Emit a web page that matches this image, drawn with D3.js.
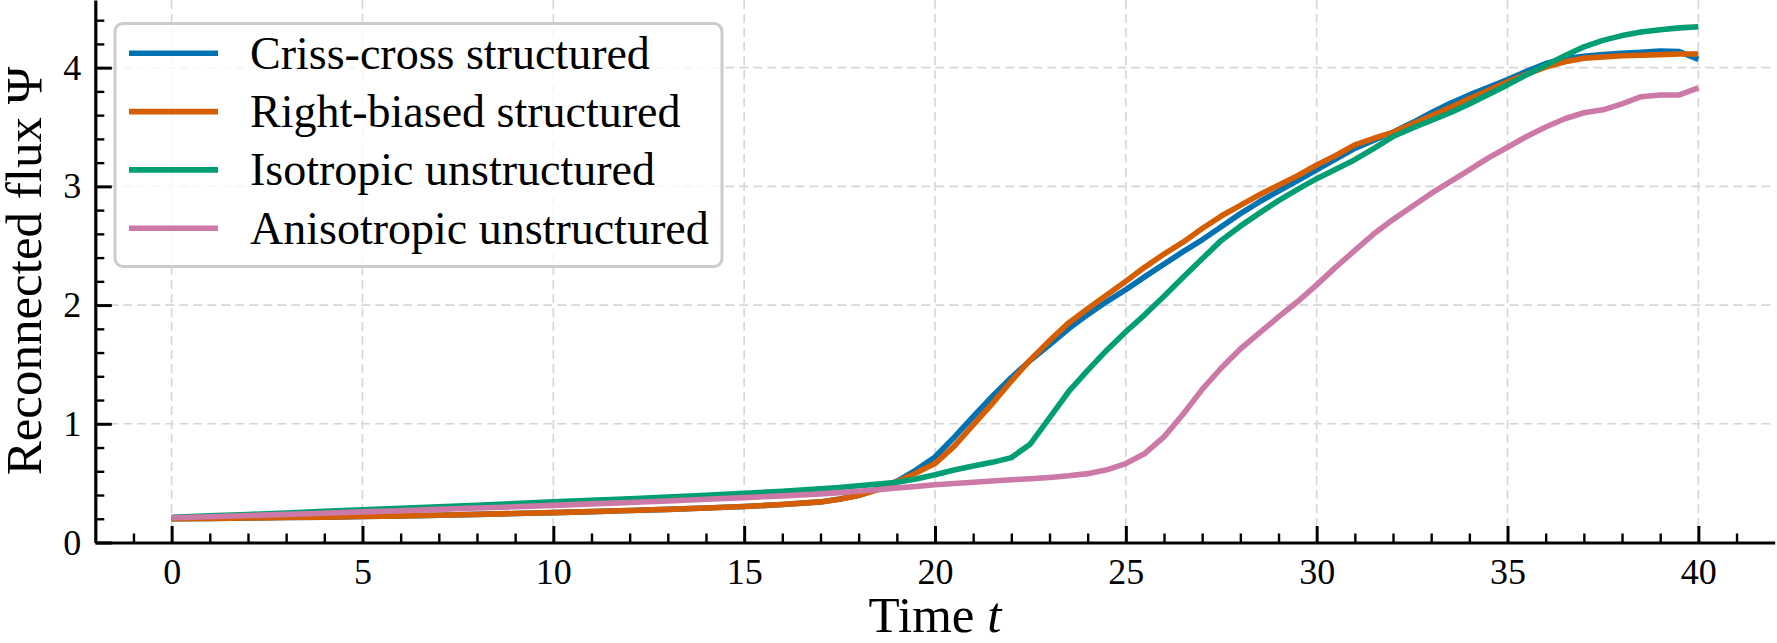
<!DOCTYPE html>
<html>
<head>
<meta charset="utf-8">
<script src="https://cdn.jsdelivr.net/npm/d3@7"></script>
<style>
  body { margin: 0; background: #fff; }
</style>
</head>
<body>
<div id="chart"></div>
<script>
"use strict";

// time samples (coarse before t=17, every 0.5 after)
const times = [0, 1, 2, 3, 4, 5, 6, 7, 8, 9, 10, 11, 12, 13, 14, 15, 16, 17,
  17.5, 18, 18.5, 19, 19.5, 20, 20.5, 21, 21.5, 22, 22.5, 23, 23.5, 24, 24.5, 25,
  25.5, 26, 26.5, 27, 27.5, 28, 28.5, 29, 29.5, 30, 30.5, 31, 31.5, 32, 32.5, 33,
  33.5, 34, 34.5, 35, 35.5, 36, 36.5, 37, 37.5, 38, 38.5, 39, 39.5, 40];

const crissCross = [0.200, 0.203, 0.206, 0.210, 0.214, 0.219, 0.224, 0.230, 0.237, 0.244, 0.252, 0.260, 0.269, 0.279, 0.290, 0.303, 0.320, 0.342,
  0.366, 0.398, 0.45, 0.515, 0.61, 0.72, 0.885, 1.06, 1.23, 1.39, 1.535, 1.665, 1.80, 1.92, 2.03, 2.13,
  2.24, 2.345, 2.45, 2.55, 2.66, 2.77, 2.87, 2.96, 3.05, 3.14, 3.23, 3.32, 3.39, 3.455, 3.535, 3.62,
  3.70, 3.77, 3.835, 3.90, 3.97, 4.035, 4.075, 4.095, 4.11, 4.12, 4.13, 4.14, 4.135, 4.07];

const rightBiased = [0.200, 0.203, 0.206, 0.210, 0.214, 0.219, 0.224, 0.230, 0.237, 0.244, 0.252, 0.260, 0.269, 0.279, 0.290, 0.303, 0.320, 0.342,
  0.365, 0.395, 0.445, 0.51, 0.585, 0.665, 0.81, 0.99, 1.17, 1.36, 1.54, 1.70, 1.85, 1.97, 2.085, 2.20,
  2.32, 2.43, 2.53, 2.645, 2.75, 2.84, 2.93, 3.01, 3.09, 3.18, 3.26, 3.35, 3.405, 3.455, 3.525, 3.595,
  3.665, 3.74, 3.81, 3.88, 3.945, 4.005, 4.05, 4.08, 4.09, 4.10, 4.105, 4.11, 4.115, 4.115];

const isotropic = [0.212, 0.224, 0.236, 0.249, 0.262, 0.275, 0.288, 0.300, 0.314, 0.328, 0.342, 0.355, 0.368, 0.383, 0.398, 0.414, 0.432, 0.452,
  0.464, 0.478, 0.492, 0.508, 0.535, 0.57, 0.61, 0.645, 0.675, 0.715, 0.83, 1.05, 1.27, 1.45, 1.62, 1.775,
  1.92, 2.075, 2.235, 2.39, 2.545, 2.665, 2.775, 2.88, 2.975, 3.065, 3.145, 3.225, 3.32, 3.42, 3.49, 3.555,
  3.62, 3.695, 3.775, 3.855, 3.94, 4.02, 4.10, 4.175, 4.23, 4.27, 4.30, 4.32, 4.335, 4.345];

const anisotropic = [0.208, 0.217, 0.227, 0.237, 0.247, 0.258, 0.268, 0.279, 0.290, 0.301, 0.313, 0.325, 0.337, 0.350, 0.364, 0.378, 0.393, 0.410,
  0.420, 0.432, 0.445, 0.460, 0.472, 0.486, 0.497, 0.508, 0.518, 0.528, 0.537, 0.548, 0.562, 0.580, 0.612, 0.665,
  0.75, 0.89, 1.08, 1.29, 1.47, 1.63, 1.765, 1.90, 2.03, 2.17, 2.32, 2.46, 2.60, 2.72, 2.83, 2.94,
  3.04, 3.14, 3.24, 3.33, 3.42, 3.50, 3.57, 3.62, 3.645, 3.695, 3.755, 3.77, 3.77, 3.83];

const seriesNames = ["Criss-cross structured", "Right-biased structured", "Isotropic unstructured", "Anisotropic unstructured"];
const seriesValues = [crissCross, rightBiased, isotropic, anisotropic];
const seriesColors = ["#0072B2", "#D55E00", "#009E73", "#CC79A7"];

const xTicks = [0, 5, 10, 15, 20, 25, 30, 35, 40];
const yTicks = [0, 1, 2, 3, 4];

const serif = '"Liberation Serif", "Times New Roman", serif';
const svgWidth = 1777, svgHeight = 643;
const plot = { left: 95.3, right: 1774.7, top: 0, bottom: 542.5 };

const svg = d3.select("#chart")
  .append("svg")
  .attr("width", svgWidth)
  .attr("height", svgHeight);

const xScale = d3.scaleLinear().domain([-2, 42]).range([plot.left, plot.right]);
const yScale = d3.scaleLinear().domain([0, 4.57]).range([plot.bottom, plot.top]);

// dashed grid at major ticks
const grid = svg.append("g")
  .attr("stroke", "#d6d6d6")
  .attr("stroke-width", 1.6)
  .attr("stroke-dasharray", "9,5");

grid.selectAll(".gx")
  .data(xTicks)
  .enter()
  .append("line")
  .attr("x1", d => xScale(d))
  .attr("x2", d => xScale(d))
  .attr("y1", plot.top)
  .attr("y2", plot.bottom);

grid.selectAll(".gy")
  .data(yTicks.filter(d => d > 0))
  .enter()
  .append("line")
  .attr("x1", plot.left)
  .attr("x2", plot.right)
  .attr("y1", d => yScale(d))
  .attr("y2", d => yScale(d));

// curves
const line = d3.line()
  .x((d, i) => xScale(times[i]))
  .y(d => yScale(d));

svg.selectAll(".series")
  .data(seriesValues)
  .enter()
  .append("path")
  .attr("d", d => line(d))
  .attr("fill", "none")
  .attr("stroke", (d, i) => seriesColors[i])
  .attr("stroke-width", 5.6)
  .attr("stroke-linejoin", "round")
  .attr("stroke-linecap", "butt");

// minor ticks
const xMinor = d3.range(-1, 42).filter(d => d % 5 !== 0);
const yMinor = d3.range(1, 23).map(d => d * 0.2).filter(d => Math.abs(d - Math.round(d)) > 1e-6);

svg.append("g")
  .attr("transform", `translate(0, ${plot.bottom})`)
  .call(d3.axisBottom(xScale).tickValues(xMinor).tickSizeInner(-9).tickSizeOuter(0).tickFormat(""))
  .call(g => g.select(".domain").remove())
  .call(g => g.selectAll(".tick line").attr("stroke-width", 2.4));

svg.append("g")
  .attr("transform", `translate(${plot.left}, 0)`)
  .call(d3.axisLeft(yScale).tickValues(yMinor).tickSizeInner(-9).tickSizeOuter(0).tickFormat(""))
  .call(g => g.select(".domain").remove())
  .call(g => g.selectAll(".tick line").attr("stroke-width", 2.4));

// major axes
svg.append("g")
  .attr("transform", `translate(0, ${plot.bottom})`)
  .call(d3.axisBottom(xScale).tickValues(xTicks).tickSizeInner(-16.5).tickSizeOuter(0).tickPadding(16).tickFormat(d3.format("d")))
  .call(g => g.select(".domain").attr("stroke-width", 3.2))
  .call(g => g.selectAll(".tick line").attr("stroke-width", 3))
  .call(g => g.selectAll("text").style("font-family", serif).style("font-size", "36px"));

svg.append("g")
  .attr("transform", `translate(${plot.left}, 0)`)
  .call(d3.axisLeft(yScale).tickValues(yTicks).tickSizeInner(-16.5).tickSizeOuter(0).tickPadding(14).tickFormat(d3.format("d")))
  .call(g => g.select(".domain").attr("stroke-width", 3.2))
  .call(g => g.selectAll(".tick line").attr("stroke-width", 3))
  .call(g => g.selectAll("text").style("font-family", serif).style("font-size", "36px"));

// axis labels
const xLabel = svg.append("text")
  .attr("x", (plot.left + plot.right) / 2)
  .attr("y", 632)
  .attr("text-anchor", "middle")
  .style("font-family", serif)
  .style("font-size", "51px");
xLabel.append("tspan").text("Time ");
xLabel.append("tspan").style("font-style", "italic").text("t");

svg.append("text")
  .attr("transform", "rotate(-90)")
  .attr("x", -271)
  .attr("y", 41)
  .attr("text-anchor", "middle")
  .style("font-family", serif)
  .style("font-size", "51px")
  .text("Reconnected flux Ψ");

// legend
const legend = svg.append("g");

legend.append("rect")
  .attr("x", 115)
  .attr("y", 23.5)
  .attr("width", 607)
  .attr("height", 243)
  .attr("rx", 8)
  .attr("fill", "#fff")
  .attr("fill-opacity", 0.8)
  .attr("stroke", "#cccccc")
  .attr("stroke-width", 3);

const rows = legend.selectAll(".row")
  .data(seriesNames)
  .enter()
  .append("g")
  .attr("transform", (d, i) => `translate(0, ${53.3 + i * 58.3})`);

rows.append("line")
  .attr("x1", 129)
  .attr("x2", 218)
  .attr("stroke", (d, i) => seriesColors[i])
  .attr("stroke-width", 5.6);

rows.append("text")
  .attr("x", 250)
  .attr("y", 15.5)
  .style("font-family", serif)
  .style("font-size", "46px")
  .text(d => d);
</script>
</body>
</html>
